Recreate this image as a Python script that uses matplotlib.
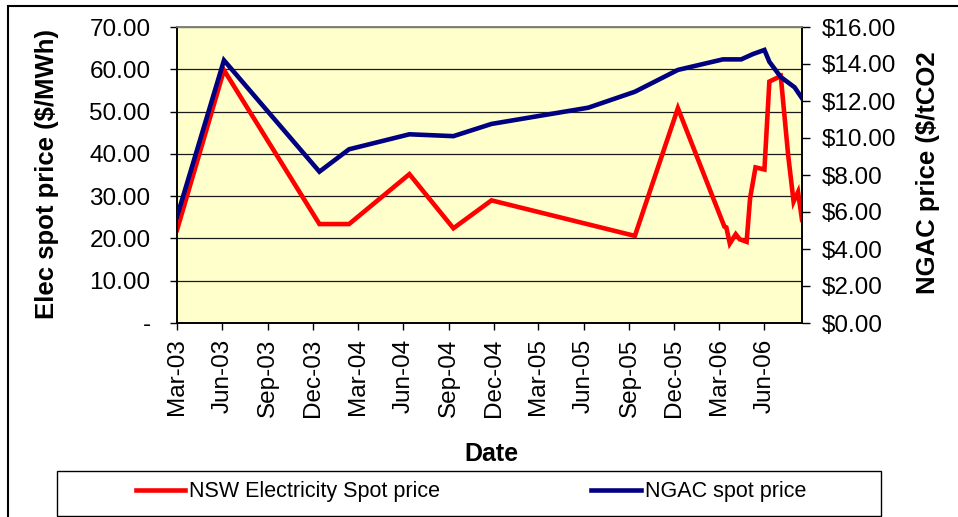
import matplotlib
matplotlib.use("Agg")
import matplotlib.pyplot as plt
import matplotlib.dates as mdates
from matplotlib.patches import Rectangle
from matplotlib.ticker import FuncFormatter, MultipleLocator
import datetime as dt

plt.rcParams['font.family'] = ['Liberation Sans', 'DejaVu Sans']

# ---------------- data ----------------
elec_dates = ["2003-03-01", "2003-06-04", "2003-12-14", "2004-02-12", "2004-06-13",
              "2004-09-10", "2004-11-26", "2005-09-12", "2005-12-08", "2006-03-12",
              "2006-03-16", "2006-03-23", "2006-04-04", "2006-04-12", "2006-04-26",
              "2006-05-03", "2006-05-14", "2006-06-01", "2006-06-11", "2006-07-04",
              "2006-07-19", "2006-07-30", "2006-08-08", "2006-08-16"]
elec_values = [22.0, 59.8, 23.4, 23.4, 35.2,
               22.4, 29.0, 20.6, 50.8, 22.8,
               22.6, 18.8, 21.0, 19.8, 19.2,
               29.5, 36.8, 36.3, 57.1, 58.4,
               39.7, 28.7, 31.0, 24.4]

ngac_dates = ["2003-03-01", "2003-06-04", "2003-12-14", "2004-02-12", "2004-06-13",
              "2004-09-10", "2004-11-26", "2005-06-10", "2005-09-12", "2005-12-08",
              "2006-03-09", "2006-04-15", "2006-05-09", "2006-06-01", "2006-06-11",
              "2006-07-04", "2006-07-17", "2006-08-01", "2006-08-16"]
ngac_values = [5.75, 14.2, 8.18, 9.39, 10.2,
               10.1, 10.76, 11.64, 12.5, 13.68,
               14.25, 14.25, 14.54, 14.76, 14.12,
               13.3, 13.04, 12.74, 12.15]

elec_label = "NSW Electricity Spot price"
ngac_label = "NGAC spot price"
left_title = "Elec spot price ($/MWh)"
right_title = "NGAC price ($/tCO2"
x_title = "Date"

to_date = lambda s: dt.datetime.strptime(s, "%Y-%m-%d")
ed = [to_date(s) for s in elec_dates]
nd = [to_date(s) for s in ngac_dates]

# ---------------- figure ----------------
W, H = 958, 517
fig = plt.figure(figsize=(W / 100, H / 100), dpi=100)
fig.patch.set_facecolor("white")

def fx(px):
    return px / W

def fy(py):
    return 1 - py / H

L, R, T, B = 177, 802, 27, 323
ax = fig.add_axes([fx(L), fy(B), fx(R) - fx(L), fy(T) - fy(B)])
ax.set_facecolor("#FFFFCC")
ax2 = ax.twinx()

red_line, = ax.plot(ed, elec_values, color="#FF0000", lw=3.3, solid_joinstyle="miter", zorder=3)
blue_line, = ax2.plot(nd, ngac_values, color="#000080", lw=3.3, solid_joinstyle="miter", zorder=3)

ax.set_xlim(to_date("2003-03-01"), to_date("2006-08-16"))
ax.set_ylim(0, 70)
ax2.set_ylim(0, 16)

ax.yaxis.set_major_locator(MultipleLocator(10))
ax.yaxis.set_major_formatter(FuncFormatter(lambda v, p: "-" if abs(v) < 1e-9 else f"{v:.2f}"))
ax2.yaxis.set_major_locator(MultipleLocator(2))
ax2.yaxis.set_major_formatter(FuncFormatter(lambda v, p: f"${v:.2f}"))

ax.xaxis.set_major_locator(mdates.MonthLocator(bymonth=[3, 6, 9, 12], bymonthday=1))
ax.xaxis.set_major_formatter(mdates.DateFormatter("%b-%y"))

ax.grid(axis="y", color="#1a1a1a", lw=0.9)
ax.set_axisbelow(True)

ax.tick_params(axis="y", direction="out", length=5, width=1, pad=14, labelsize=17.5, colors="black")
ax2.tick_params(axis="y", direction="out", length=6, width=1, pad=8, labelsize=17.5, colors="black")
ax.tick_params(axis="x", direction="out", length=5, width=1, pad=6, labelsize=17.5, rotation=90)

for a in (ax, ax2):
    for s in ("left", "right", "bottom"):
        a.spines[s].set_color("black")
        a.spines[s].set_linewidth(1.2)
    a.spines["top"].set_color("#808080")
    a.spines["top"].set_linewidth(1.2)

# axis titles
fig.text(fx(47), fy(174), left_title, rotation=90, ha="center", va="center",
         fontsize=18.5, fontweight="bold")
fig.text(fx(928), fy(173), right_title, rotation=90, ha="center", va="center",
         fontsize=18.5, fontweight="bold")
fig.text(fx(491), fy(454), x_title, ha="center", va="center",
         fontsize=18, fontweight="bold")

# legend
fig.add_artist(Rectangle((fx(57), fy(516)), fx(881) - fx(57), fy(471) - fy(516),
                         transform=fig.transFigure, facecolor="white", edgecolor="black",
                         lw=1, zorder=1))
leg = fig.legend([red_line, blue_line], [elec_label, ngac_label], ncol=2,
                 loc="center", bbox_to_anchor=(fx(471), fy(492)),
                 frameon=False, fontsize=15.5, handlelength=2.3, handletextpad=0.2,
                 columnspacing=7.0)
leg.set_zorder(2)

# outer chart border
fig.add_artist(Rectangle((fx(8), fy(530)), 1.2, fy(6) - fy(530),
                         transform=fig.transFigure, facecolor="none", edgecolor="black",
                         lw=1.5, zorder=0, clip_on=False))

fig.savefig("out.png", dpi=100)
